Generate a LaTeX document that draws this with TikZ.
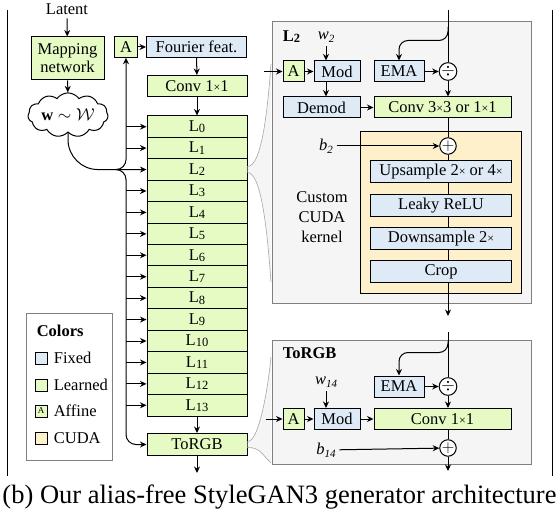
\documentclass[tikz,border=0pt]{standalone}
\usepackage{fontspec}
\setmainfont{Liberation Serif}
\usetikzlibrary{arrows.meta,positioning,calc,shapes.symbols}
\definecolor{fixedc}{HTML}{DEEAF6}
\definecolor{learnedc}{HTML}{E6FBC4}
\definecolor{cudac}{HTML}{FFF0CC}
\definecolor{panelc}{HTML}{F5F5F5}
\definecolor{panelline}{HTML}{808080}
\newcommand{\lsub}[1]{\raisebox{-0.15ex}{\fontsize{12.5}{12}\selectfont #1}}
\newcommand{\vsub}[1]{\raisebox{-0.45ex}{\fontsize{11}{11}\selectfont\itshape #1}}
\newcommand{\smallx}{{\fontsize{12}{12}\selectfont ×}}

\begin{document}
\begin{tikzpicture}[x=1pt,y=-1pt,>={Stealth[length=6.5pt,width=6pt]},line width=1pt,
 font=\fontsize{16.5}{18}\selectfont,
 box/.style={draw,inner sep=0pt,minimum height=21pt},
 fixed/.style={box,fill=fixedc},
 learned/.style={box,fill=learnedc},
 cudabox/.style={box,fill=cudac},
 panel/.style={draw=panelline,fill=panelc,inner sep=0pt},
 title/.style={anchor=west,font=\fontsize{16.5}{18}\selectfont\bfseries},
 op/.style={draw,circle,fill=white,inner sep=0pt,minimum size=16pt},
 zoomline/.style={draw=black!35,line width=0.6pt}]
\useasboundingbox (0,0) rectangle (559,510);

\draw (7,10) -- (7,476);
\draw (552,10) -- (552,476);

\node (latent) at (67,9) {Latent};
\node[learned,minimum width=73pt,minimum height=43pt,align=center] (map) at (67.5,58.5) {Mapping\\network};
\node[cloud,draw,fill=white,cloud puffs=11,cloud puff arc=110,aspect=2.3,inner sep=1pt,minimum width=80pt,minimum height=35pt] (w) at (68,115) {$\mathbf{w}\sim\mathcal{W}$};
\node[learned,minimum width=23pt,minimum height=20.5pt] (aff1) at (126,47) {A};
\node[fixed,minimum width=100pt,minimum height=20.5pt] (four) at (196.5,47) {Fourier feat.};
\node[learned,minimum width=100pt] (conv0) at (197,86) {Conv 1\smallx1};
\foreach \i in {0,...,13}
  \node[learned,minimum width=100pt,minimum height=21.43pt] (L\i) at (197,{126.7+21.43*\i}) {L\lsub{\i}};
\node[learned,minimum width=100pt,minimum height=22pt] (torgb) at (197,444.5) {ToRGB};
\coordinate (bus) at (126,0);
\coordinate (split) at ($(L2.west -| bus)+(-10,0)$);
\coordinate (out1) at (197,473);

\draw[->] (latent) -- (map);
\draw[->] (map) -- (w);
\draw[->] (aff1) -- (four);
\draw[->] (four) -- (conv0);
\draw[->] (conv0) -- (L0);
\draw[->] (L13) -- (torgb);
\draw[->] (torgb) -- (out1);
\draw[->,rounded corners=30pt] (w.south) |- (L2.west);
\draw[->,rounded corners=10pt] (split) -| (aff1.south);
\draw[->,rounded corners=10pt] (split) -| (torgb.west -| bus) -- (torgb.west);
\foreach \i in {0,1,3,4,...,13}
  \draw[->] (L\i.west -| bus) -- (L\i.west);

\node[draw=panelline,line width=0.8pt,minimum width=86pt,minimum height=147pt,inner sep=0pt] (legend) at (69,386.5) {};
\node[title] (legendtitle) at (33,331) {Colors};
\foreach \y/\s/\m/\t in {358/fixed//Fixed,385/learned//Learned,411/learned/A/Affine,438/cudabox//CUDA}{
  \node[\s,line width=0.8pt,minimum width=12pt,minimum height=12pt,font=\fontsize{9}{9}\selectfont] (key\y) at (41,\y) {\m};
  \node[anchor=west] (label\y) at (50,\y) {\t};
}

\coordinate (zoomLa) at ($(L2.east)+(0,-3)$);
\coordinate (zoomLb) at (271,64);
\coordinate (zoomLc) at (271,282);
\coordinate (zoomLd) at ($(L2.east)+(0,3)$);
\fill[black!4] (zoomLa) .. controls +(15,0) and +(-3,40) .. (zoomLb) -- (zoomLc) .. controls +(-3,-40) and +(15,0) .. (zoomLd) -- cycle;
\draw[zoomline] (zoomLa) .. controls +(15,0) and +(-3,40) .. (zoomLb);
\draw[zoomline] (zoomLd) .. controls +(15,0) and +(-3,-40) .. (zoomLc);
\coordinate (zoomTa) at ($(torgb.east)+(0,-3)$);
\coordinate (zoomTb) at (271,357);
\coordinate (zoomTc) at (271,463);
\coordinate (zoomTd) at ($(torgb.east)+(0,3)$);
\fill[black!4] (zoomTa) .. controls +(12,0) and +(-3,30) .. (zoomTb) -- (zoomTc) .. controls +(-10,-10) and +(12,0) .. (zoomTd) -- cycle;
\draw[zoomline] (zoomTa) .. controls +(12,0) and +(-3,30) .. (zoomTb);
\draw[zoomline] (zoomTd) .. controls +(12,0) and +(-10,-10) .. (zoomTc);

\node[panel,minimum width=259pt,minimum height=282pt] (panelL) at (401.5,163) {};
\node[title] (panelLtitle) at (279,37) {L\lsub{2}};
\node (w2) at (326,37) {\textit{w}\vsub{2}};
\node[learned,minimum width=21pt] (aff2) at (293.5,71.5) {A};
\node[fixed,minimum width=46pt] (mod2) at (337,71.5) {Mod};
\node[fixed,minimum width=50pt] (ema2) at (399,71.5) {EMA};
\node[op] (div2) at (448,71.5) {$\div$};
\node[fixed,minimum width=77pt] (demod) at (321.5,107.5) {Demod};
\node[learned,minimum width=137pt] (conv2) at (442.5,107.5) {Conv 3\smallx3 or 1\smallx1};
\node[draw,fill=cudac,minimum width=161pt,minimum height=162pt,inner sep=0pt] (cuda) at (441,213) {};
\node[op] (add2) at (448,146) {$+$};
\node (b2) at (326,146) {\textit{b}\vsub{2}};
\node[fixed,minimum width=141pt,minimum height=22pt] (up) at (441,172) {Upsample 2\smallx{} or 4\smallx};
\node[fixed,minimum width=141pt,minimum height=22pt] (leaky) at (441,206) {Leaky ReLU};
\node[fixed,minimum width=141pt,minimum height=22pt] (down) at (441,239) {Downsample 2\smallx};
\node[fixed,minimum width=141pt,minimum height=22pt] (crop) at (441,272) {Crop};
\node[align=center,font=\fontsize{16.5}{20}\selectfont] (kernel) at (322,217) {Custom\\CUDA\\kernel};
\coordinate (top2) at (448,10);
\coordinate (tap2) at (448,27);
\coordinate (in2) at (264,71.5);
\coordinate (out2) at (448,316);

\draw (top2) -- (div2);
\draw[->,rounded corners=9pt] (tap2) |- ($(ema2.north)+(0,-20)$) -- (ema2.north);
\draw[->] (in2) -- (aff2);
\draw[->] (aff2) -- (mod2);
\draw[->] (w2) -- (w2 |- mod2.north);
\draw[->] (w2 |- mod2.south) -- (w2 |- demod.north);
\draw[->] (ema2) -- (div2);
\draw[->] (div2) -- (div2 |- conv2.north);
\draw[->] (demod) -- (conv2);
\draw (conv2.south -| add2) -- (add2);
\draw[->] (b2) -- (add2);
\draw (add2) -- (add2 |- up.north);
\draw (up.south -| add2) -- (leaky.north -| add2);
\draw (leaky.south -| add2) -- (down.north -| add2);
\draw (down.south -| add2) -- (crop.north -| add2);
\draw[->] (crop.south -| add2) -- (out2);

\node[panel,minimum width=259pt,minimum height=124pt] (panelT) at (401.5,402) {};
\node[title] (panelTtitle) at (279,353) {ToRGB};
\node[fixed,minimum width=50pt] (ema3) at (399,386.5) {EMA};
\node[op] (div3) at (448,386.5) {$\div$};
\node (w14) at (326,382) {\textit{w}\vsub{14}};
\node[learned,minimum width=21pt] (aff3) at (293.5,419) {A};
\node[fixed,minimum width=46pt] (mod3) at (337,419) {Mod};
\node[learned,minimum width=137pt] (conv3) at (442.5,419) {Conv 1\smallx1};
\node[op] (add3) at (448,448) {$+$};
\node (b14) at (326,450) {\textit{b}\vsub{14}};
\coordinate (top3) at (448,332);
\coordinate (tap3) at (448,341);
\coordinate (in3) at (266,419);
\coordinate (out3) at (448,471);

\draw (top3) -- (div3);
\draw[->,rounded corners=9pt] (tap3) |- ($(ema3.north)+(0,-23)$) -- (ema3.north);
\draw[->] (in3) -- (aff3);
\draw[->] (aff3) -- (mod3);
\draw[->] (mod3) -- (conv3);
\draw[->] (w14) -- (w14 |- mod3.north);
\draw[->] (ema3) -- (div3);
\draw[->] (div3) -- (div3 |- conv3.north);
\draw (conv3.south -| add3) -- (add3);
\draw[->] (b14) -- (add3);
\draw[->] (add3) -- (out3);

\node[font=\fontsize{26.5}{30}\selectfont] (caption) at (279.5,497) {(b) Our alias-free StyleGAN3 generator architecture};
\end{tikzpicture}
\end{document}
